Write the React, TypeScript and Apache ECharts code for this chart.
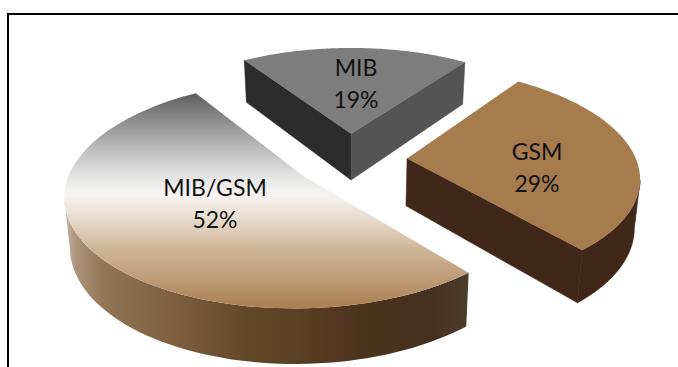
import React, { useEffect, useRef } from "react";
import * as echarts from "echarts";

// Shares of each group, in percent, clockwise from the first slice.
const categories = ["MIB", "GSM", "MIB/GSM"];
const shares = [19, 29, 52];

// Pie pose: homography of the top plane, with a depth-dependent wall height.
const START_ANGLE = -33;
const EXPLODE = 0.25;
const CX = 350;
const CY = 159.5;
const SCALE_X = 229;
const SCALE_Y = 106.5;
const PERSPECTIVE = 0.155;
const WALL = 47.5;
const WALL_FALLOFF = 0.8;
const BOTTOM_SHRINK = 0.98;

const rad = (deg: number) => (deg * Math.PI) / 180;
const along = (deg: number, r: number): [number, number] => [Math.sin(rad(deg)) * r, -Math.cos(rad(deg)) * r];

function project(x: number, y: number, bottom: boolean): number[] {
  const depth = 1 - PERSPECTIVE * y;
  const sx = (SCALE_X * x) / depth;
  const sy = (SCALE_Y * y) / depth;
  return bottom
    ? [CX + sx * BOTTOM_SHRINK, CY + sy + WALL / Math.pow(depth, WALL_FALLOFF)]
    : [CX + sx, CY + sy];
}

const bandStops = (pairs: [number, string][]) => pairs.map(([offset, color]) => ({ offset, color }));

const richTop = new echarts.graphic.LinearGradient(
  0,
  0,
  0,
  1,
  bandStops([
    [0, "#5e5e5e"],
    [0.12, "#8a8a8a"],
    [0.25, "#b9b9b9"],
    [0.38, "#e2e2e2"],
    [0.47, "#f6f5f3"],
    [0.58, "#e8dccf"],
    [0.72, "#d0b699"],
    [0.88, "#bb9872"],
    [1, "#a97f50"],
  ])
);

const richWall = new echarts.graphic.LinearGradient(
  0,
  0,
  1,
  0,
  bandStops([
    [0, "#c8b8a8"],
    [0.03, "#ab927a"],
    [0.1, "#927556"],
    [0.2, "#856848"],
    [0.3, "#7a5c3c"],
    [0.38, "#6e5032"],
    [0.44, "#64482a"],
    [0.5, "#5f4426"],
    [0.56, "#5c4225"],
    [0.62, "#573b21"],
    [0.68, "#533620"],
    [0.74, "#4a341b"],
    [0.82, "#49311b"],
    [0.9, "#43301f"],
    [0.96, "#4a3628"],
    [1, "#4a3e28"],
  ])
);

const faces = [
  { top: "#7d7d7d", arc: "#4a4a4a", startCut: "#2c2c2c", endCut: "#545454" },
  { top: "#a67c4e", arc: "#40271a", startCut: "#40271a", endCut: "#40271a" },
  { top: richTop, arc: richWall, startCut: "#40271a", endCut: "#40271a" },
];

const labelSpots = [
  [356, 83],
  [537, 167],
  [215, 203],
];

function renderSlice(params: any, api: any) {
  const i = params.dataIndex;
  const total = shares.reduce((a, b) => a + b, 0);
  const before = shares.slice(0, i).reduce((a, b) => a + b, 0);
  const a0 = START_ANGLE + (before / total) * 360;
  const a1 = a0 + (api.value(0) / total) * 360;
  const [ox, oy] = along((a0 + a1) / 2, EXPLODE);

  const steps = 90;
  const arcAngles = Array.from({ length: steps + 1 }, (_, k) => a0 + ((a1 - a0) * k) / steps);
  const rim = (deg: number, bottom: boolean) => {
    const [x, y] = along(deg, 1);
    return project(x + ox, y + oy, bottom);
  };
  const apexTop = project(ox, oy, false);
  const apexBottom = project(ox, oy, true);
  const face = faces[i];

  const topRim = arcAngles.map((a) => rim(a, false));
  const polygon = (points: number[][], fill: any, seal = false) => ({
    type: "polygon",
    shape: { points },
    style: seal ? { fill, stroke: fill, lineWidth: 0.6 } : { fill },
  });

  const children: any[] = [];

  // The rim wall is visible only between the pie's left and right extremes,
  // where the rim runs right-to-left going clockwise.
  const frontAngles = arcAngles.filter(
    (_, k) =>
      (k < steps && topRim[k + 1][0] < topRim[k][0]) || (k > 0 && topRim[k][0] < topRim[k - 1][0])
  );
  if (frontAngles.length > 1) {
    const upper = frontAngles.map((a) => rim(a, false));
    const lower = frontAngles.map((a) => rim(a, true));
    children.push(polygon([...upper, ...lower.reverse()], face.arc, typeof face.arc === "string"));
  }

  // A cut face shows only when its outward normal points towards the viewer.
  if (along(a0 - 90, 1)[1] > 0) {
    children.push(polygon([apexTop, topRim[0], rim(a0, true), apexBottom], face.startCut, true));
  }
  if (along(a1 + 90, 1)[1] > 0) {
    children.push(polygon([apexTop, topRim[steps], rim(a1, true), apexBottom], face.endCut, true));
  }
  children.push(polygon([apexTop, ...topRim], face.top));
  children.push({
    type: "text",
    x: labelSpots[i][0],
    y: labelSpots[i][1],
    z2: 10,
    style: {
      text: `${categories[i]}\n${api.value(0)}%`,
      fill: "#111111",
      fontFamily: "Lato",
      fontSize: 23,
      lineHeight: 32,
      align: "center",
      verticalAlign: "middle",
    },
  });

  return { type: "group", children };
}

export default function App() {
  const host = useRef<HTMLDivElement>(null);

  useEffect(() => {
    document.body.style.margin = "0";
    const chart = echarts.init(host.current!, undefined, { renderer: "svg" });
    chart.setOption({
      animation: false,
      backgroundColor: "#ffffff",
      graphic: [
        { type: "line", shape: { x1: 8, y1: 14, x2: 678, y2: 14 }, style: { stroke: "#000000", lineWidth: 2 } },
        { type: "line", shape: { x1: 8, y1: 13, x2: 8, y2: 367 }, style: { stroke: "#000000", lineWidth: 2 } },
      ],
      series: [
        {
          type: "custom",
          coordinateSystem: "none",
          data: shares.map((v) => [v]),
          renderItem: renderSlice,
          silent: true,
        },
      ],
    });
    return () => chart.dispose();
  }, []);

  return <div ref={host} style={{ width: 678, height: 367 }} />;
}
